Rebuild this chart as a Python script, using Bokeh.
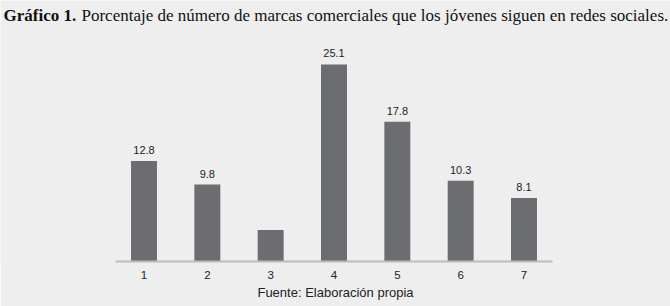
from bokeh.plotting import figure
from bokeh.models import Range1d, FixedTicker, ColumnDataSource, LabelSet, Label, Title
from bokeh.core.properties import value
from bokeh.embed import file_html
from bokeh.resources import INLINE

categories = [1, 2, 3, 4, 5, 6, 7]
values = [12.8, 9.8, 4.0, 25.1, 17.8, 10.3, 8.1]
value_labels = ["12.8", "9.8", "", "25.1", "17.8", "10.3", "8.1"]
tick_labels = ["1", "2", "3", "4", "5", "6", "7"]
title_bold = "Gráfico 1."
title_rest = "Porcentaje de número de marcas comerciales que los jóvenes siguen en redes sociales."
caption = "Fuente: Elaboración propia"

BG = "#eeeeee"
BAR = "#6b6d70"

# frame spans the full width; axis line limited by bounds
PX_PER_CAT = 63.33
x0 = 0.55 - 115 / PX_PER_CAT
x1 = 7.45 + 118 / PX_PER_CAT

p = figure(width=670, height=306, x_range=Range1d(x0, x1), y_range=Range1d(0, 33.25),
           output_backend="svg", toolbar_location=None,
           min_border_left=0, min_border_right=0, min_border_top=0, min_border_bottom=45)
p.background_fill_color = BG
p.background_fill_alpha = 1.0
p.border_fill_color = BG
p.border_fill_alpha = 1.0
p.outline_line_color = None
p.xgrid.visible = False
p.ygrid.visible = False
p.yaxis.visible = False

src = ColumnDataSource(dict(x=categories, top=values, lab=value_labels))
p.vbar(x="x", top="top", width=0.41, bottom=0, source=src, fill_color=BAR, line_color=None)

labels = LabelSet(x="x", y="top", text="lab", source=src, y_offset=7, text_align="center",
                  text_baseline="bottom", text_font=value("Liberation Sans"),
                  text_font_size=value("11px"), text_color="#222222")
p.add_layout(labels)

ax = p.xaxis[0]
ax.bounds = (0.55, 7.45)
ax.ticker = FixedTicker(ticks=categories)
ax.major_label_overrides = {c: t for c, t in zip(categories, tick_labels)}
ax.major_tick_line_color = None
ax.minor_tick_line_color = None
ax.axis_line_color = "#bbbbbb"
ax.axis_line_width = 2
ax.major_label_standoff = 3
ax.major_label_text_font = "Liberation Sans"
ax.major_label_text_font_size = "11.5px"
ax.major_label_text_color = "#222222"

cap = Title(text=caption, align="center", text_font="Liberation Sans", text_font_size="13px",
            text_font_style="normal", text_color="#222222", standoff=2)
p.add_layout(cap, "below")

t1 = Label(x=3, y=246, x_units="screen", y_units="screen", text=title_bold,
           text_font="Liberation Serif", text_font_size="17px", text_font_style="bold",
           text_color="#111111", text_baseline="alphabetic")
t2 = Label(x=81, y=246, x_units="screen", y_units="screen", text=title_rest,
           text_font="Liberation Serif", text_font_size="17px",
           text_color="#111111", text_baseline="alphabetic")
p.add_layout(t1)
p.add_layout(t2)

open("out.html", "w").write(file_html(p, INLINE))
